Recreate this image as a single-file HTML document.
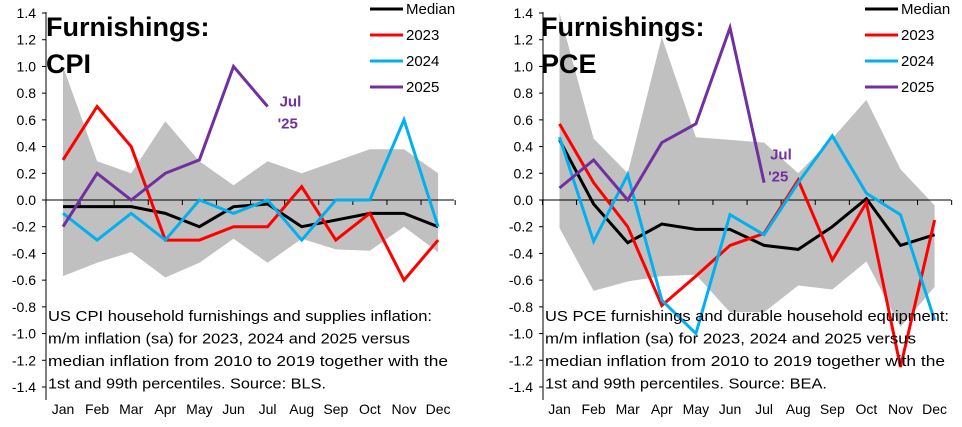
<!DOCTYPE html>
<html><head><meta charset="utf-8"><style>
body{margin:0;background:#fff;width:962px;height:422px;overflow:hidden;font-family:"Liberation Sans",sans-serif}
svg text{font-family:"Liberation Sans",sans-serif}
</style></head><body>
<svg id="chart" width="962" height="422" xmlns="http://www.w3.org/2000/svg"></svg>
<script>
const months=["Jan","Feb","Mar","Apr","May","Jun","Jul","Aug","Sep","Oct","Nov","Dec"];
const yTicks=[1.4,1.2,1.0,0.8,0.6,0.4,0.2,0.0,-0.2,-0.4,-0.6,-0.8,-1.0,-1.2,-1.4];
// CPI
const cpiUpper=[1.0,0.29,0.2,0.59,0.29,0.11,0.29,0.2,0.29,0.38,0.38,0.2];
const cpiLower=[-0.57,-0.47,-0.39,-0.58,-0.47,-0.29,-0.47,-0.29,-0.37,-0.38,-0.2,-0.39];
const cpiMedian=[-0.05,-0.05,-0.05,-0.1,-0.2,-0.05,-0.03,-0.2,-0.15,-0.1,-0.1,-0.2];
const cpi2023=[0.3,0.7,0.4,-0.3,-0.3,-0.2,-0.2,0.1,-0.3,-0.1,-0.6,-0.3];
const cpi2024=[-0.1,-0.3,-0.1,-0.3,0,-0.1,0,-0.3,0,0,0.6,-0.2];
const cpi2025=[-0.2,0.2,0,0.2,0.3,1.0,0.7];
// PCE
const pceUpper=[1.4,0.46,0.2,1.22,0.47,0.45,0.43,0.2,0.46,0.75,0.23,-0.04];
const pceLower=[-0.21,-0.68,-0.61,-0.57,-0.56,-0.84,-0.84,-0.64,-0.67,-0.46,-0.95,-0.65];
const pceMedian=[0.45,-0.03,-0.32,-0.18,-0.22,-0.22,-0.34,-0.37,-0.2,0.01,-0.34,-0.26];
const pce2023=[0.57,0.13,-0.2,-0.79,-0.57,-0.34,-0.25,0.15,-0.45,-0.02,-1.25,-0.15];
const pce2024=[0.47,-0.31,0.19,-0.75,-1.0,-0.11,-0.26,0.13,0.48,0.05,-0.11,-0.9];
const pce2025=[0.09,0.3,0,0.43,0.57,1.29,0.13];

const NS="http://www.w3.org/2000/svg";
const svg=document.getElementById('chart');
function mk(tag,attrs,parent){const e=document.createElementNS(NS,tag);for(const k in attrs)e.setAttribute(k,attrs[k]);(parent||svg).appendChild(e);return e;}

function panel(o){
  const g=mk('g',{});
  
  
  const y=v=>200-v*(374/2.8);
  const x=i=>o.x0+i*o.step;
  let pts=o.upper.map((v,i)=>x(i)+','+y(v)).concat(o.lower.map((v,i)=>x(i)+','+y(v)).reverse());
  const band=mk('polygon',{points:pts.join(' '),fill:'#c0c0c0'},g);
  
  
  const ya=mk('line',{x1:o.ax,y1:12,x2:o.ax,y2:400,stroke:'#000','stroke-width':1},g);
  
  
  yTicks.forEach(t=>{
    mk('line',{x1:o.ax-4,y1:y(t),x2:o.ax,y2:y(t),stroke:'#000'},g);
    const tl=mk('text',{x:o.ax-10,y:y(t)+5,'font-size':14,'text-anchor':'end'},g);
    tl.textContent=t.toFixed(1);
    
    
  });
  const xa=mk('line',{x1:o.ax,y1:200,x2:o.ax+408,y2:200,stroke:'#000'},g);
  
  
  for(let i=0;i<=12;i++){mk('line',{x1:x(i)-o.step/2,y1:200,x2:x(i)-o.step/2,y2:205,stroke:'#000'},g);}
  months.forEach((m,i)=>{
    const t=mk('text',{x:x(i),y:414,'font-size':14,'text-anchor':'middle'},g);
    t.textContent=m;
    
    
  });
  const series=[[o.median,'#000','median-line'],[o.s23,'#ff0000','line-2023'],[o.s24,'#00b0f0','line-2024'],[o.s25,'#7030a0','line-2025']];
  series.forEach(s=>{
    const p=mk('polyline',{points:s[0].map((v,i)=>x(i)+','+y(v)).join(' '),fill:'none',stroke:s[1],'stroke-width':3,'stroke-linejoin':'miter'},g);
    
    
  });
  const t1=mk('text',{x:o.tx,y:36,'font-size':27,'font-weight':'bold'},g);t1.textContent='Furnishings:';
  
  
  const t2=mk('text',{x:o.tx,y:73,'font-size':27,'font-weight':'bold'},g);t2.textContent=o.sub;
  
  
  const last=o.s25.length-1;
  const a1=mk('text',{x:x(last)+o.annDx,y:y(o.s25[last])+o.annDy,'font-size':15,'font-weight':'bold',fill:'#7030a0'},g);a1.textContent='Jul';
  
  
  const a2=mk('text',{x:x(last)+o.annDx-2,y:y(o.s25[last])+o.annDy+22,'font-size':15,'font-weight':'bold',fill:'#7030a0'},g);a2.textContent="'25";
  const labels=['Median','2023','2024','2025'],cols=['#000','#ff0000','#00b0f0','#7030a0'];
  labels.forEach((l,i)=>{
    const ly=9+i*26;
    mk('line',{x1:o.lx,y1:ly,x2:o.lx+33,y2:ly,stroke:cols[i],'stroke-width':3},g);
    const lt=mk('text',{x:o.lx+36,y:ly+5,'font-size':15},g);lt.textContent=l;
    
    
  });
  o.desc.forEach((d,i)=>{
    const dt=mk('text',{x:o.ax+2,y:321+i*22.5,'font-size':15.2,textLength:o.descW[i],lengthAdjust:'spacingAndGlyphs'},g);dt.textContent=d;
    
    
  });
}
panel({name:'cpi-chart',ax:46,x0:63,step:34.1,upper:cpiUpper,lower:cpiLower,median:cpiMedian,s23:cpi2023,s24:cpi2024,s25:cpi2025,
  tx:46,sub:'CPI',annDx:12,annDy:0,lx:370,descW:[384,362,400,278],
  desc:['US CPI household furnishings and supplies inflation:','m/m inflation (sa) for 2023, 2024 and 2025 versus','median inflation from 2010 to 2019 together with the','1st and 99th percentiles. Source: BLS.']});
panel({name:'pce-chart',ax:543,x0:559.5,step:34.1,upper:pceUpper,lower:pceLower,median:pceMedian,s23:pce2023,s24:pce2024,s25:pce2025,
  tx:541,sub:'PCE',annDx:6,annDy:-23,lx:865,descW:[404,371,400,282],
  desc:['US PCE furnishings and durable household equipment:','m/m inflation (sa) for 2023, 2024 and 2025 versus','median inflation from 2010 to 2019 together with the','1st and 99th percentiles. Source: BEA.']});
</script>
</body></html>
